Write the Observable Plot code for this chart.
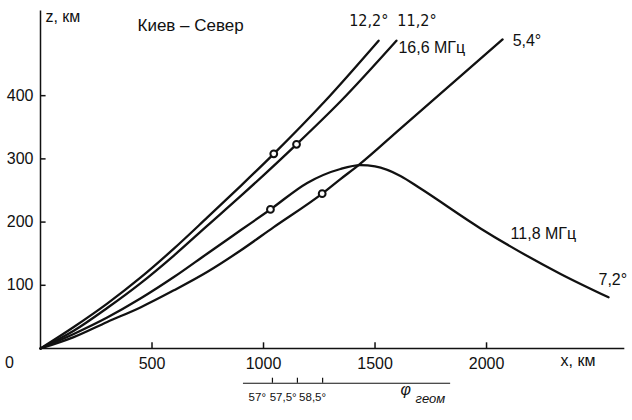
<!DOCTYPE html>
<html><head><meta charset="utf-8">
<script src="https://cdn.jsdelivr.net/npm/d3@7"></script>
<script src="https://cdn.jsdelivr.net/npm/@observablehq/plot@0.6"></script>
<style>
body{margin:0;background:#fff;}
svg{font-family:"Liberation Sans",Arial,sans-serif;}
</style></head><body>
<div id="chart"></div>
<script>
// ---- data (x = ground distance, km; z = height, km) ----
const xTicks = [500, 1000, 1500, 2000];
const yTicks = [100, 200, 300, 400];
const phiTicks = [1040, 1152, 1265];
const phiLabels = ["57°", "57,5°", "58,5°"];

const ray122 = [[0,0],[149,34],[299,71],[448,112],[598,158],[747,207],[897,257],[1046,308],[1272,390],[1516,487]];
const ray112 = [[0,0],[149,28],[299,64],[448,103],[598,147],[747,194],[897,241],[1148,323],[1348,392],[1596,487]];
const ray54  = [[0,0],[149,18],[299,42],[448,65],[598,92],[747,121],[897,155],[1046,192],[1263,245],[1345,268],[1422,289],[1614,348],[2072,489]];
const ray72  = [[0,0],[149,23],[299,49],[448,79],[598,113],[747,150],[897,187],[1031,220],[1196,262],[1345,284],[1435,290],[1500,288],[1614,273],[1704,253],[1973,190],[2332,118],[2547,81]];

const markers = [
  {ray: "12,2°", x: 1046, z: 308},
  {ray: "11,2°", x: 1148, z: 323},
  {ray: "7,2°",  x: 1031, z: 220},
  {ray: "5,4°",  x: 1263, z: 245}
];

const rayTable = [
  ...ray122.map(([x, z]) => ({ray: "12,2°", x, z})),
  ...ray112.map(([x, z]) => ({ray: "11,2°", x, z})),
  ...ray54.map(([x, z]) => ({ray: "5,4°", x, z})),
  ...ray72.map(([x, z]) => ({ray: "7,2°", x, z}))
];

const ink = "#111";
const narrow = "'Liberation Sans Narrow', 'DejaVu Sans Condensed', sans-serif";
const lbl = (text, x, y, opts = {}) =>
  Plot.text([text], {x: () => x, y: () => y, text: d => d, fill: ink, fontSize: 16, textAnchor: "start", ...opts});

// label centres for the geomagnetic-latitude scale (km)
const phiLabelX = [972, 1088, 1220];

const chart = Plot.plot({
  width: 632, height: 420,
  marginLeft: 40, marginRight: 1, marginTop: 13, marginBottom: 72,
  x: {domain: [0, 2650], axis: null},
  y: {domain: [0, 530], axis: null},
  style: {background: "#fff", fontFamily: "'Liberation Sans', Arial, sans-serif", fontSize: "16px", overflow: "visible"},
  marks: [
    // axes
    Plot.ruleX([0], {y1: 0, y2: 534, stroke: ink, strokeWidth: 1.5}),
    Plot.ruleY([0], {x1: 0, x2: 2620, stroke: ink, strokeWidth: 1.5}),
    Plot.ruleX(xTicks, {x: d => d, y1: 0, y2: 9, stroke: ink, strokeWidth: 1.5}),
    Plot.ruleY(yTicks, {y: d => d, x1: 0, x2: 25, stroke: ink, strokeWidth: 1.5}),
    Plot.text(xTicks, {x: d => d, y: 0, dy: 15, text: d => String(d), fill: ink, fontSize: 16}),
    Plot.text(yTicks, {x: 0, y: d => d, dx: -7, textAnchor: "end", text: d => String(d), fill: ink, fontSize: 16}),
    Plot.text(["0"], {x: 0, y: 0, dx: -31, dy: 14, text: d => d, fill: ink, fontSize: 16}),
    lbl("x, км", 2332, 0, {dy: 12, letterSpacing: 3.5}),
    lbl("z, км", 22, 524),
    lbl("Киев – Север", 435, 511, {fontSize: 17, letterSpacing: 2.3}),

    // rays
    Plot.line(rayTable, {x: "x", y: "z", z: "ray", curve: "monotone-x", stroke: ink, strokeWidth: 2.3}),
    Plot.dot(markers, {x: "x", y: "z", r: 3.4, fill: "white", stroke: ink, strokeWidth: 2}),

    // ray labels
    lbl("12,2°", 1472, 519, {textAnchor: "middle", fontFamily: narrow, fontSize: 16}),
    lbl("11,2°", 1688, 519, {textAnchor: "middle", fontFamily: narrow, fontSize: 16, letterSpacing: 1.5}),
    lbl("16,6 МГц", 1605, 476),
    lbl("5,4°", 2117, 486, {letterSpacing: 1.5}),
    lbl("11,8 МГц", 2108, 182),
    lbl("7,2°", 2502, 109, {letterSpacing: 1.5}),

    // geomagnetic latitude axis
    Plot.ruleY([-55], {x1: 910, x2: 1839, stroke: ink, strokeWidth: 1.2}),
    Plot.ruleX(phiTicks, {x: d => d, y1: -55, y2: -47, stroke: ink, strokeWidth: 1.2}),
    ...phiLabels.map((t, i) => lbl(t, phiLabelX[i], -55, {dy: 14, textAnchor: "middle", fontSize: 11.5, letterSpacing: -0.4})),
    lbl("φ", 1614, -66, {fontStyle: "italic"}),
    lbl("геом", 1682, -79, {fontSize: 13, fontStyle: "italic", letterSpacing: 0.8})
  ]
});
document.getElementById("chart").append(chart);
</script>
</body></html>
